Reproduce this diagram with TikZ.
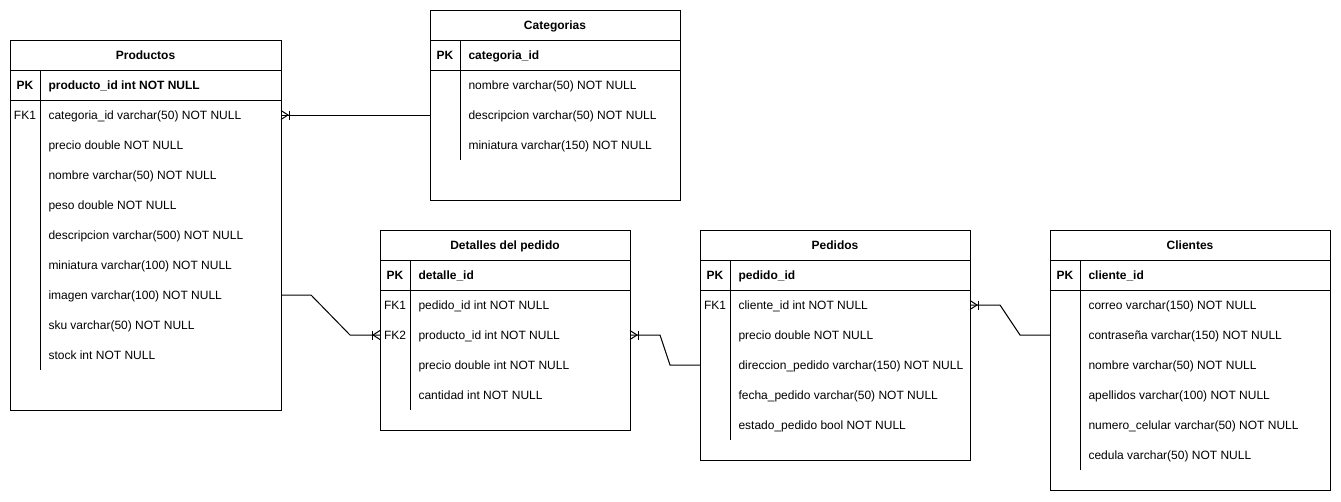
\documentclass[tikz,border=0pt]{standalone}
\usepackage{fontspec}
\setmainfont{Liberation Sans}
\begin{document}
\begin{tikzpicture}[x=0.75pt,y=-0.75pt,line width=0.75pt,
  font=\fontsize{9}{11}\selectfont,
  tbl/.style={draw,anchor=north west,inner sep=0pt,outer sep=0pt},
  txt/.style={inner sep=0pt,text height=6.5pt,text depth=0pt},
  ttl/.style={txt,anchor=center,font=\fontsize{9}{11}\selectfont\bfseries},
  keyl/.style={txt,anchor=center},
  keylb/.style={keyl,font=\fontsize{9}{11}\selectfont\bfseries},
  fld/.style={txt,anchor=west},
  fldb/.style={fld,font=\fontsize{9}{11}\selectfont\bfseries},
  rel/.style={draw,line width=0.75pt},
  crowR/.pic={\draw[line width=0.75pt] (0,-4.5) -- (7,0) -- (0,4.5); \draw[line width=0.75pt] (8,-4.5) -- (8,4.5);},
  crowL/.pic={\draw[line width=0.75pt] (0,-4.5) -- (-7,0) -- (0,4.5); \draw[line width=0.75pt] (-8,-4.5) -- (-8,4.5);}
]
\useasboundingbox (0,0) rectangle (1341,501);

% ---------- Productos ----------
\node[tbl,minimum width=203.25pt,minimum height=277.5pt] (prod) at (10,40) {};
\draw (10,70) -- (281,70);
\draw (10,100) -- (281,100);
\draw (40,70) -- (40,370);
\node[ttl] (prodT) at (145.5,55) {Productos};
\node[keylb] (prodK) at (25,85) {PK};
\node[fldb] (prodPK) at (48,85) {producto\_id int NOT NULL};
\node[keyl] (prodK1) at (25,115) {FK1};
\node[fld] (prodF1) at (48,115) {categoria\_id varchar(50) NOT NULL};
\node[fld] (prodF2) at (48,145) {precio double NOT NULL};
\node[fld] (prodF3) at (48,175) {nombre varchar(50) NOT NULL};
\node[fld] (prodF4) at (48,205) {peso double NOT NULL};
\node[fld] (prodF5) at (48,235) {descripcion varchar(500) NOT NULL};
\node[fld] (prodF6) at (48,265) {miniatura varchar(100) NOT NULL};
\node[fld] (prodF7) at (48,295) {imagen varchar(100) NOT NULL};
\node[fld] (prodF8) at (48,325) {sku varchar(50) NOT NULL};
\node[fld] (prodF9) at (48,355) {stock int NOT NULL};

% ---------- Categorias ----------
\node[tbl,minimum width=187.5pt,minimum height=142.5pt] (cat) at (430,10) {};
\draw (430,40) -- (680,40);
\draw (430,70) -- (680,70);
\draw (460,40) -- (460,160);
\node[ttl] (catT) at (555,25) {Categorias};
\node[keylb] (catK) at (445,55) {PK};
\node[fldb] (catPK) at (468,55) {categoria\_id};
\node[fld] (catF1) at (468,85) {nombre varchar(50) NOT NULL};
\node[fld] (catF2) at (468,115) {descripcion varchar(50) NOT NULL};
\node[fld] (catF3) at (468,145) {miniatura varchar(150) NOT NULL};

% ---------- Detalles del pedido ----------
\node[tbl,minimum width=187.5pt,minimum height=150pt] (det) at (380,230) {};
\draw (380,260) -- (630,260);
\draw (380,290) -- (630,290);
\draw (410,260) -- (410,410);
\node[ttl] (detT) at (505,245) {Detalles del pedido};
\node[keylb] (detK) at (395,275) {PK};
\node[fldb] (detPK) at (418,275) {detalle\_id};
\node[keyl] (detK1) at (395,305) {FK1};
\node[fld] (detF1) at (418,305) {pedido\_id int NOT NULL};
\node[keyl] (detK2) at (395,335) {FK2};
\node[fld] (detF2) at (418,335) {producto\_id int NOT NULL};
\node[fld] (detF3) at (418,365) {precio double int NOT NULL};
\node[fld] (detF4) at (418,395) {cantidad int NOT NULL};

% ---------- Pedidos ----------
\node[tbl,minimum width=202.5pt,minimum height=172.5pt] (ped) at (700,230) {};
\draw (700,260) -- (970,260);
\draw (700,290) -- (970,290);
\draw (730,260) -- (730,440);
\node[ttl] (pedT) at (835,245) {Pedidos};
\node[keylb] (pedK) at (715,275) {PK};
\node[fldb] (pedPK) at (738,275) {pedido\_id};
\node[keyl] (pedK1) at (715,305) {FK1};
\node[fld] (pedF1) at (738,305) {cliente\_id int NOT NULL};
\node[fld] (pedF2) at (738,335) {precio double NOT NULL};
\node[fld] (pedF3) at (738,365) {direccion\_pedido varchar(150) NOT NULL};
\node[fld] (pedF4) at (738,395) {fecha\_pedido varchar(50) NOT NULL};
\node[fld] (pedF5) at (738,425) {estado\_pedido bool NOT NULL};

% ---------- Clientes ----------
\node[tbl,minimum width=210pt,minimum height=195pt] (cli) at (1050,230) {};
\draw (1050,260) -- (1330,260);
\draw (1050,290) -- (1330,290);
\draw (1080,260) -- (1080,470);
\node[ttl] (cliT) at (1190,245) {Clientes};
\node[keylb] (cliK) at (1065,275) {PK};
\node[fldb] (cliPK) at (1088,275) {cliente\_id};
\node[fld] (cliF1) at (1088,305) {correo varchar(150) NOT NULL};
\node[fld] (cliF2) at (1088,335) {contraseña varchar(150) NOT NULL};
\node[fld] (cliF3) at (1088,365) {nombre varchar(50) NOT NULL};
\node[fld] (cliF4) at (1088,395) {apellidos varchar(100) NOT NULL};
\node[fld] (cliF5) at (1088,425) {numero\_celular varchar(50) NOT NULL};
\node[fld] (cliF6) at (1088,455) {cedula varchar(50) NOT NULL};

% ---------- connector end points ----------
\coordinate (r1a) at (prod.east |- prodF1.west);
\coordinate (r1b) at (cat.west |- catF2.west);
\coordinate (r2a) at (prod.east |- prodF7.west);
\coordinate (r2b) at (det.west |- detF2.west);
\coordinate (r3a) at (det.east |- detF2.west);
\coordinate (r3b) at (ped.west |- pedF3.west);
\coordinate (r4a) at (ped.east |- pedF1.west);
\coordinate (r4b) at (cli.west |- cliF2.west);

% ---------- relations ----------
\draw[rel] (r1a) -- (r1b);
\pic at (r1a) {crowR};

\draw[rel] (r2a) -- ++(30,0) -- ([xshift=-22.5pt]r2b) -- (r2b);
\pic at (r2b) {crowL};

\draw[rel] (r3a) -- ++(30,0) -- ([xshift=-22.5pt]r3b) -- (r3b);
\pic at (r3a) {crowR};

\draw[rel] (r4a) -- ++(30,0) -- ([xshift=-22.5pt]r4b) -- (r4b);
\pic at (r4a) {crowR};
\end{tikzpicture}
\end{document}
